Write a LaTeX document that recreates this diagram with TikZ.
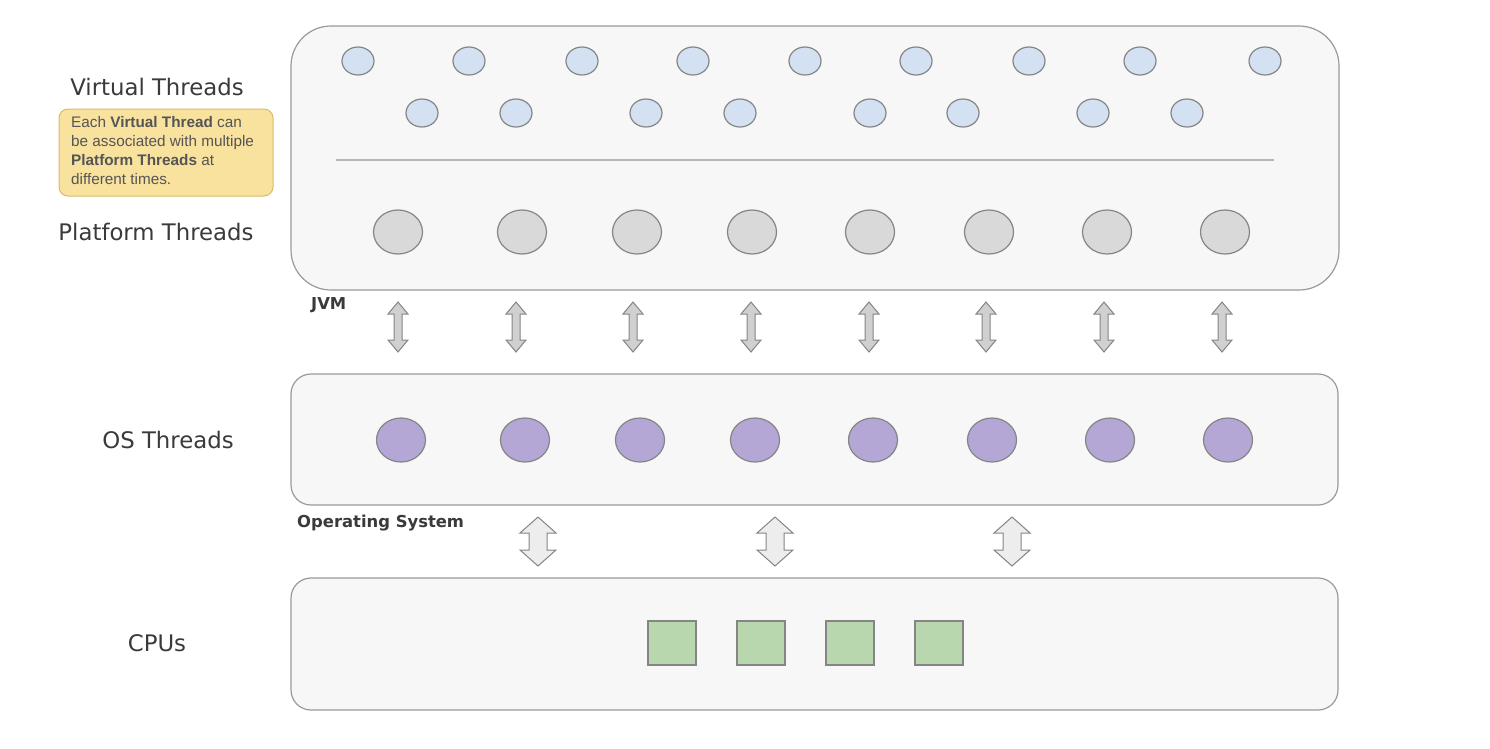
\documentclass[tikz,border=0pt]{standalone}
\usepackage{fontspec}
\setmainfont{Open Sans}
\newfontfamily\notefont{Liberation Sans}
\newfontfamily\labelfont{DejaVu Sans}
\usetikzlibrary{shapes.geometric}
\definecolor{boxfill}{HTML}{F7F7F7}
\definecolor{boxline}{HTML}{9A9A9A}
\definecolor{vfill}{HTML}{D4E1F2}
\definecolor{pfill}{HTML}{D9D9D9}
\definecolor{ofill}{HTML}{B4A7D6}
\definecolor{cfill}{HTML}{B9D7AE}
\definecolor{shline}{HTML}{858585}
\definecolor{notefill}{HTML}{F8E29E}
\definecolor{noteline}{HTML}{D9BC6A}
\definecolor{notetext}{HTML}{555555}
\definecolor{thinarr}{HTML}{D0D0D0}
\definecolor{fatarr}{HTML}{EDEDED}
\definecolor{labtext}{HTML}{3A3A3A}
\tikzset{
  layerbox/.style={draw=boxline, fill=boxfill, line width=1.2pt},
  vthread/.style={ellipse, draw=shline, fill=vfill, line width=1.2pt, minimum width=32pt, minimum height=28pt, inner sep=0pt},
  pthread/.style={ellipse, draw=shline, fill=pfill, line width=1.2pt, minimum width=49pt, minimum height=44pt, inner sep=0pt},
  othread/.style={ellipse, draw=shline, fill=ofill, line width=1.2pt, minimum width=49pt, minimum height=44pt, inner sep=0pt},
  cpu/.style={rectangle, draw=shline, fill=cfill, line width=1.2pt, minimum width=48pt, minimum height=44pt, inner sep=0pt},
  biglabel/.style={font=\labelfont\fontsize{22.8}{26}\selectfont, text=labtext, inner sep=0pt},
  smalllabel/.style={font=\labelfont\fontsize{16.4}{18}\selectfont\bfseries, text=labtext, inner sep=0pt},
  thinarrow/.style={draw=shline, fill=thinarr, line width=1pt, line join=miter},
  fatarrow/.style={draw=shline, fill=fatarr, line width=1pt, line join=miter},
}
\begin{document}
\begin{tikzpicture}[x=1pt,y=-1pt]
\useasboundingbox (0,0) rectangle (1490,748);
% layer boxes
\draw[layerbox, rounded corners=40pt] (291,26) rectangle (1339,290);
\draw[layerbox, rounded corners=20pt] (291,374) rectangle (1338,505);
\draw[layerbox, rounded corners=20pt] (291,578) rectangle (1338,710);
% separator
\draw[draw=boxline!70, line width=1.2pt] (336,160) -- (1274,160);
% virtual threads
\foreach \x [count=\i] in {358,469,582,693,805,916,1029,1140,1265}
  \node[vthread] (va\i) at (\x,61) {};
\foreach \x [count=\i] in {422,516,646,740,870,963,1093,1187}
  \node[vthread] (vb\i) at (\x,113) {};
% platform threads
\foreach \x [count=\i] in {398,522,637,752,870,989,1107,1225}
  \node[pthread] (pt\i) at (\x,232) {};
% thin double arrows
\foreach \x in {398,516,633,751,869,986,1104,1222}
  \draw[thinarrow] (\x,302) -- (\x+10,314) -- (\x+4,314) -- (\x+4,340) -- (\x+10,340)
     -- (\x,352) -- (\x-10,340) -- (\x-4,340) -- (\x-4,314) -- (\x-10,314) -- cycle;
% OS threads
\foreach \x [count=\i] in {401,525,640,755,873,992,1110,1228}
  \node[othread] (os\i) at (\x,440) {};
% fat double arrows
\foreach \x in {538,775,1012}
  \draw[fatarrow] (\x,517) -- (\x+18,533) -- (\x+9,533) -- (\x+9,550) -- (\x+18,550)
     -- (\x,566) -- (\x-18,550) -- (\x-9,550) -- (\x-9,533) -- (\x-18,533) -- cycle;
% CPUs
\foreach \x [count=\i] in {672,761,850,939}
  \node[cpu] (cpu\i) at (\x,643) {};
% labels
\node[biglabel] (lvt) at (157,87) {Virtual Threads};
\node[biglabel] (lpt) at (156,232) {Platform Threads};
\node[biglabel] (los) at (168,440) {OS Threads};
\node[biglabel] (lcpu) at (157,643) {CPUs};
\node[smalllabel, anchor=west] (ljvm) at (311,305) {JVM};
\node[smalllabel, anchor=west] (los2) at (297,523) {Operating System};
% note
\node[draw=noteline, fill=notefill, line width=1pt, rounded corners=9pt,
      minimum width=214pt, minimum height=87pt, inner sep=0pt] (note) at (166,152.5) {};
\node[anchor=north west, inner sep=0pt, align=left, text=notetext,
      font=\notefont\fontsize{15.3}{19}\selectfont] (notetxt) at (71,116)
  {Each \textbf{Virtual Thread} can\\be associated with multiple\\\textbf{Platform Threads} at\\different times.};
\end{tikzpicture}
\end{document}
